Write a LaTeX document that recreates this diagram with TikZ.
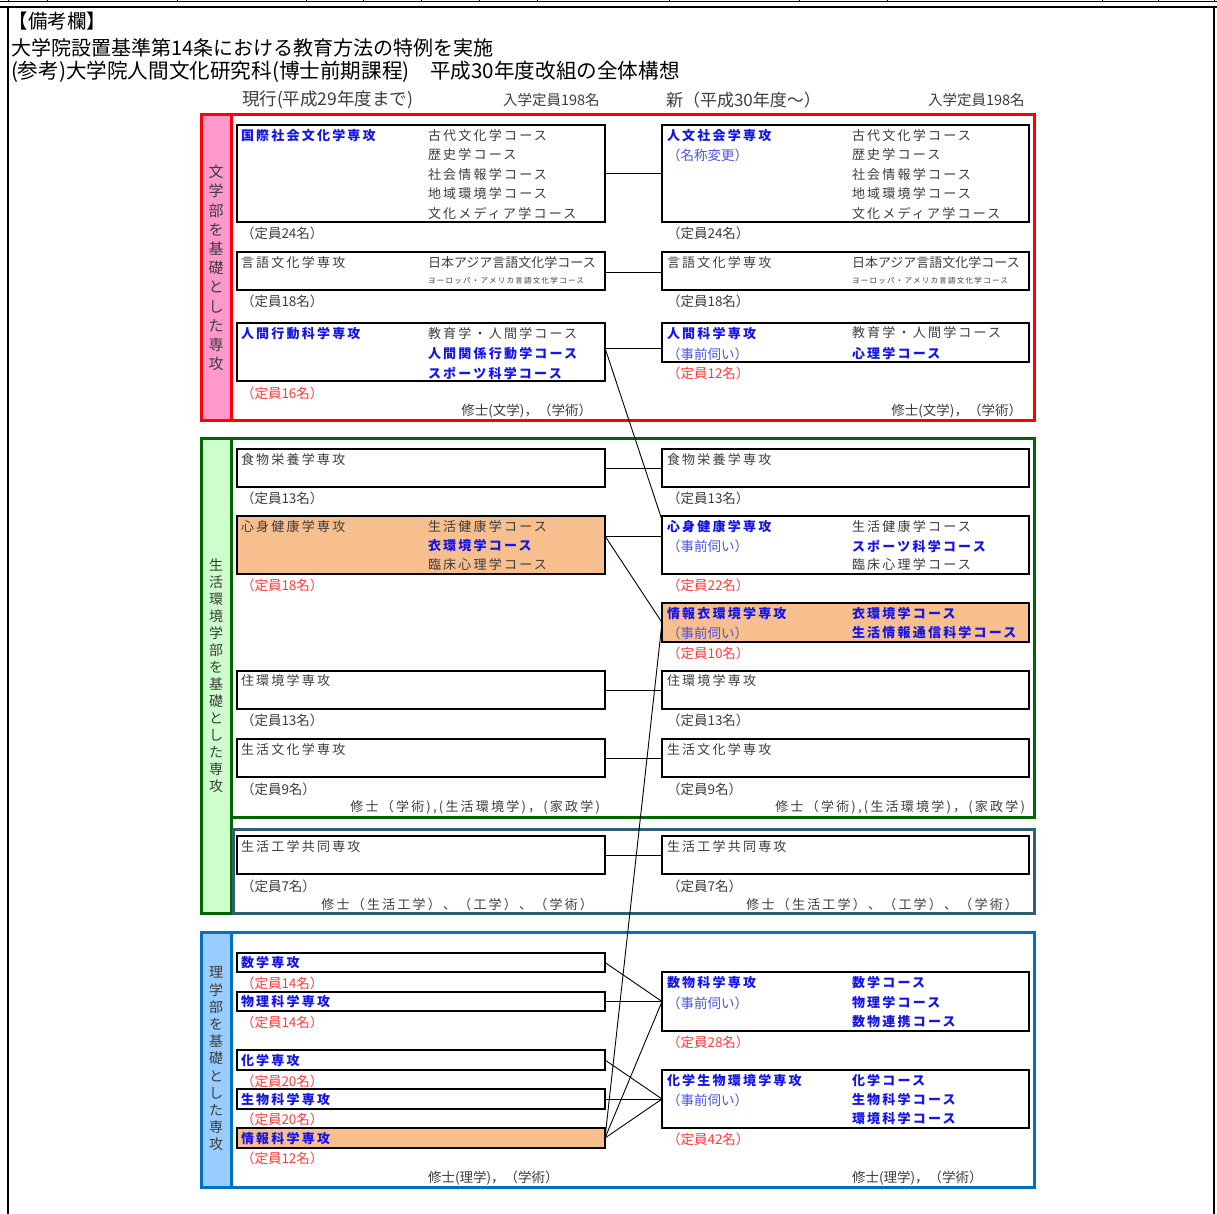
\documentclass[tikz,border=0pt]{standalone}
\usepackage{fontspec}
\setmainfont{Noto Sans CJK JP}
\newfontfamily\jpls[LetterSpace=17]{Noto Sans CJK JP}
\definecolor{tgray}{HTML}{3C3C3C}
\definecolor{tblue}{HTML}{1515E6}
\definecolor{lblue}{HTML}{4A55DD}
\definecolor{tred}{HTML}{FF3B3B}
\definecolor{orfill}{HTML}{F8BF8E}
\definecolor{pinkfill}{HTML}{FF99CC}
\definecolor{lgreen}{HTML}{CCFFCC}
\definecolor{lbluefill}{HTML}{99CCFF}
\definecolor{dgreen}{HTML}{006600}
\definecolor{slate}{HTML}{2F5F70}
\definecolor{sblue}{HTML}{0070C0}
\definecolor{fred}{HTML}{FF0000}
\tikzset{
  every node/.style={inner sep=0pt, outer sep=0pt},
  tx/.style={anchor=west, font=\jpls\fontsize{13}{13}\selectfont, text=tgray},
  bb/.style={anchor=west, font=\jpls\bfseries\fontsize{13}{13}\selectfont, text=tblue},
  np/.style={anchor=west, font=\fontsize{13.5}{13.5}\selectfont, text=tgray},
  lb/.style={np, text=lblue},
  rq/.style={np, text=tred},
  tinytx/.style={anchor=west, font=\jpls\fontsize{7.5}{7.5}\selectfont, text=tgray},
  bx/.style={draw=black, line width=2.2pt, anchor=north west, minimum height=#1},
  lbx/.style={bx=#1, minimum width=368pt},
  rbx/.style={bx=#1, minimum width=367pt},
  vlab/.style={align=center, text=tgray},
  conn/.style={draw=black, line width=0.9pt},
  sect/.style={line width=3pt},
  head/.style={anchor=west, text=black},
}
\begin{document}
\begin{tikzpicture}[x=1pt,y=-1pt]
\useasboundingbox (0,0) rectangle (1217,1214);
\fill[white] (0,0) rectangle (1217,1214);
% top frame
\draw[line width=1pt] (0,2) -- (1217,2);
\draw[line width=2pt] (0,7) -- (1217,7);
\foreach \x in {8,47,177,306,363,421,479,537,669,799,887,1102,1158,1214}
  \draw[line width=1pt] (\x,0) -- (\x,2);
\draw[line width=1.3pt] (8,7) -- (8,1214);
\draw[line width=1.3pt] (1214,7) -- (1214,1214);
% header
\node[head, font=\fontsize{19.5}{19.5}\selectfont] (h0) at (9,21) {【備考欄】};
\node[head, font=\fontsize{20}{20}\selectfont] (h1) at (11,48) {大学院設置基準第14条における教育方法の特例を実施};
\node[head, font=\fontsize{20.6}{20.6}\selectfont] (h2) at (11,72) {(参考)大学院人間文化研究科(博士前期課程)　平成30年度改組の全体構想};
\node[head, font=\fontsize{17.5}{17.5}\selectfont, text=tgray] (h3) at (242,100) {現行(平成29年度まで)};
\node[head, font=\fontsize{14.5}{14.5}\selectfont, text=tgray] (h4) at (503,100) {入学定員198名};
\node[head, font=\fontsize{17}{17}\selectfont, text=tgray] (h5) at (666,100) {新（平成30年度～）};
\node[head, font=\fontsize{14.5}{14.5}\selectfont, text=tgray] (h6) at (928,100) {入学定員198名};

% section 1 frame
\fill[pinkfill] (201,115) rectangle (231,420);
\draw[fred, sect] (201,115) rectangle (1034,420);
\draw[fred, sect] (231,115) -- (231,420);
\node[vlab, font=\fontsize{15}{19.2}\selectfont] (lab1) at (216,268) {文\\学\\部\\を\\基\\礎\\と\\し\\た\\専\\攻};
% section 2 frame
\fill[lgreen] (201,438) rectangle (231,913);
\draw[dgreen, sect] (201,438) rectangle (231,913);
\draw[dgreen, sect] (231,438) rectangle (1034,817);
\draw[slate, sect] (233,829) rectangle (1034,913);
\node[vlab, font=\fontsize{14}{17}\selectfont] (lab2) at (216,676) {生\\活\\環\\境\\学\\部\\を\\基\\礎\\と\\し\\た\\専\\攻};
% section 3 frame
\fill[lbluefill] (201,932) rectangle (231,1187);
\draw[sblue, sect] (201,932) rectangle (1034,1187);
\draw[sblue, sect] (231,932) -- (231,1187);
\node[vlab, font=\fontsize{14}{17.2}\selectfont] (lab3) at (216,1059) {理\\学\\部\\を\\基\\礎\\と\\し\\た\\専\\攻};

% boxes
\node[lbx=97pt] (A1) at (237,125) {};
\node[lbx=38pt] (A2) at (237,252) {};
\node[lbx=58pt] (A3) at (237,323) {};
\node[rbx=97pt] (B1) at (662,125) {};
\node[rbx=38pt] (B2) at (662,252) {};
\node[rbx=39pt] (B3) at (662,323) {};
\node[lbx=38pt] (C1) at (237,449) {};
\node[lbx=58pt, fill=orfill] (C2) at (237,516) {};
\node[lbx=38pt] (C3) at (237,671) {};
\node[lbx=38pt] (C4) at (237,739) {};
\node[lbx=38pt] (C5) at (237,836) {};
\node[rbx=38pt] (D1) at (662,449) {};
\node[rbx=58pt] (D2) at (662,516) {};
\node[rbx=39pt, fill=orfill] (D3) at (662,603) {};
\node[rbx=38pt] (D4) at (662,671) {};
\node[rbx=38pt] (D5) at (662,739) {};
\node[rbx=38pt] (D6) at (662,836) {};
\node[lbx=19pt] (E1) at (237,953) {};
\node[lbx=19pt] (E2) at (237,992) {};
\node[lbx=20pt] (E3) at (237,1050) {};
\node[lbx=20pt] (E4) at (237,1089) {};
\node[lbx=20pt, fill=orfill] (E5) at (237,1128) {};
\node[rbx=59pt] (F1) at (662,972) {};
\node[rbx=58pt] (F2) at (662,1070) {};

% section 1 texts
\node[bb] (a1n) at (241,136) {国際社会文化学専攻};
\node[tx] (a1c1) at (428,136) {古代文化学コース};
\node[tx] (a1c2) at (428,155) {歴史学コース};
\node[tx] (a1c3) at (428,175) {社会情報学コース};
\node[tx] (a1c4) at (428,194) {地域環境学コース};
\node[tx] (a1c5) at (428,213) {文化メディア学コース};
\node[np] (a1q) at (241,233) {（定員24名）};
\node[tx] (a2n) at (241,263) {言語文化学専攻};
\node[np, font=\fontsize{13}{13}\selectfont] (a2c1) at (428,263) {日本アジア言語文化学コース};
\node[tinytx] (a2c2) at (428,281) {ヨーロッパ・アメリカ言語文化学コース};
\node[np] (a2q) at (241,301) {（定員18名）};
\node[bb] (a3n) at (241,334) {人間行動科学専攻};
\node[tx] (a3c1) at (428,334) {教育学・人間学コース};
\node[bb] (a3c2) at (428,354) {人間関係行動学コース};
\node[bb] (a3c3) at (428,373) {スポーツ科学コース};
\node[rq] (a3q) at (241,393) {（定員16名）};
\node[np, anchor=east] (a3d) at (592,411) {修士(文学)，（学術）};

\node[bb] (b1n) at (667,136) {人文社会学専攻};
\node[lb] (b1s) at (667,155) {（名称変更）};
\node[tx] (b1c1) at (852,136) {古代文化学コース};
\node[tx] (b1c2) at (852,155) {歴史学コース};
\node[tx] (b1c3) at (852,175) {社会情報学コース};
\node[tx] (b1c4) at (852,194) {地域環境学コース};
\node[tx] (b1c5) at (852,213) {文化メディア学コース};
\node[np] (b1q) at (667,233) {（定員24名）};
\node[tx] (b2n) at (667,263) {言語文化学専攻};
\node[np, font=\fontsize{13}{13}\selectfont] (b2c1) at (852,263) {日本アジア言語文化学コース};
\node[tinytx] (b2c2) at (852,281) {ヨーロッパ・アメリカ言語文化学コース};
\node[np] (b2q) at (667,301) {（定員18名）};
\node[bb] (b3n) at (667,334) {人間科学専攻};
\node[lb] (b3s) at (667,354) {（事前伺い）};
\node[tx] (b3c1) at (852,333) {教育学・人間学コース};
\node[bb] (b3c2) at (852,354) {心理学コース};
\node[rq] (b3q) at (667,373) {（定員12名）};
\node[np, anchor=east] (b3d) at (1022,411) {修士(文学)，（学術）};

% section 2 texts
\node[tx] (c1n) at (241,460) {食物栄養学専攻};
\node[np] (c1q) at (241,498) {（定員13名）};
\node[tx] (c2n) at (241,527) {心身健康学専攻};
\node[tx] (c2c1) at (428,527) {生活健康学コース};
\node[bb] (c2c2) at (428,546) {衣環境学コース};
\node[tx] (c2c3) at (428,565) {臨床心理学コース};
\node[rq] (c2q) at (241,585) {（定員18名）};
\node[tx] (c3n) at (241,681) {住環境学専攻};
\node[np] (c3q) at (241,720) {（定員13名）};
\node[tx] (c4n) at (241,750) {生活文化学専攻};
\node[np] (c4q) at (241,789) {（定員9名）};
\node[tx, anchor=east] (c4d) at (600,807) {修士（学術),(生活環境学)，(家政学)};
\node[tx] (c5n) at (241,847) {生活工学共同専攻};
\node[np] (c5q) at (241,886) {（定員7名）};
\node[tx, anchor=east] (c5d) at (593,905) {修士（生活工学）、（工学）、（学術）};

\node[tx] (d1n) at (667,460) {食物栄養学専攻};
\node[np] (d1q) at (667,498) {（定員13名）};
\node[bb] (d2n) at (667,527) {心身健康学専攻};
\node[lb] (d2s) at (667,546) {（事前伺い）};
\node[tx] (d2c1) at (852,527) {生活健康学コース};
\node[bb] (d2c2) at (852,546) {スポーツ科学コース};
\node[tx] (d2c3) at (852,565) {臨床心理学コース};
\node[rq] (d2q) at (667,585) {（定員22名）};
\node[bb] (d3n) at (667,614) {情報衣環境学専攻};
\node[lb] (d3s) at (667,633) {（事前伺い）};
\node[bb] (d3c1) at (852,614) {衣環境学コース};
\node[bb] (d3c2) at (852,633) {生活情報通信科学コース};
\node[rq] (d3q) at (667,653) {（定員10名）};
\node[tx] (d4n) at (667,681) {住環境学専攻};
\node[np] (d4q) at (667,720) {（定員13名）};
\node[tx] (d5n) at (667,750) {生活文化学専攻};
\node[np] (d5q) at (667,789) {（定員9名）};
\node[tx, anchor=east] (d5d) at (1025,807) {修士（学術),(生活環境学)，(家政学)};
\node[tx] (d6n) at (667,847) {生活工学共同専攻};
\node[np] (d6q) at (667,886) {（定員7名）};
\node[tx, anchor=east] (d6d) at (1018,905) {修士（生活工学）、（工学）、（学術）};

% section 3 texts
\node[bb] (e1n) at (241,963) {数学専攻};
\node[rq] (e1q) at (241,983) {（定員14名）};
\node[bb] (e2n) at (241,1002) {物理科学専攻};
\node[rq] (e2q) at (241,1022) {（定員14名）};
\node[bb] (e3n) at (241,1061) {化学専攻};
\node[rq] (e3q) at (241,1081) {（定員20名）};
\node[bb] (e4n) at (241,1100) {生物科学専攻};
\node[rq] (e4q) at (241,1119) {（定員20名）};
\node[bb] (e5n) at (241,1139) {情報科学専攻};
\node[rq] (e5q) at (241,1158) {（定員12名）};
\node[np] (e5d) at (428,1178) {修士(理学)，（学術）};

\node[bb] (f1n) at (667,983) {数物科学専攻};
\node[lb] (f1s) at (667,1003) {（事前伺い）};
\node[bb] (f1c1) at (852,983) {数学コース};
\node[bb] (f1c2) at (852,1003) {物理学コース};
\node[bb] (f1c3) at (852,1022) {数物連携コース};
\node[rq] (f1q) at (667,1042) {（定員28名）};
\node[bb] (f2n) at (667,1081) {化学生物環境学専攻};
\node[lb] (f2s) at (667,1100) {（事前伺い）};
\node[bb] (f2c1) at (852,1081) {化学コース};
\node[bb] (f2c2) at (852,1100) {生物科学コース};
\node[bb] (f2c3) at (852,1119) {環境科学コース};
\node[rq] (f2q) at (667,1139) {（定員42名）};
\node[np] (f2d) at (852,1178) {修士(理学)，（学術）};

% connectors
\draw[conn] (A1.east) -- (B1.west);
\draw[conn] (A2.east |- 0,272) -- (B2.west |- 0,272);
\draw[conn] (A3.east |- 0,348) -- (B3.west |- 0,348);
\draw[conn] (A3.east |- 0,348) -- (D2.west |- 0,520);
\draw[conn] (C1.east) -- (D1.west);
\draw[conn] (C2.east |- 0,536) -- (D2.west |- 0,536);
\draw[conn] (C2.east |- 0,536) -- (D3.west);
\draw[conn] (D3.west) -- (E5.east);
\draw[conn] (C3.east) -- (D4.west);
\draw[conn] (C4.east) -- (D5.west);
\draw[conn] (C5.east) -- (D6.west);
\draw[conn] (E1.east) -- (F1.west);
\draw[conn] (E2.east) -- (F1.west);
\draw[conn] (E5.east) -- (F1.west);
\draw[conn] (E3.east) -- (F2.west);
\draw[conn] (E4.east) -- (F2.west);
\draw[conn] (E5.east) -- (F2.west);
\end{tikzpicture}
\end{document}
